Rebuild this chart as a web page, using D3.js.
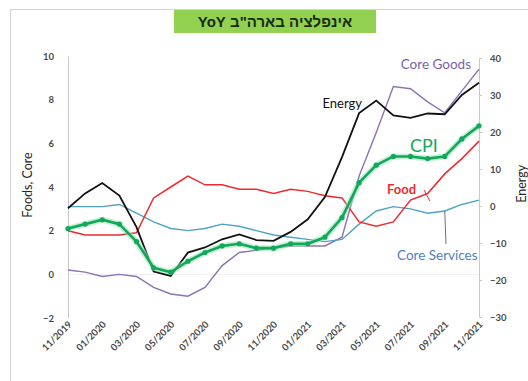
<!DOCTYPE html>
<html>
<head>
<meta charset="utf-8">
<script src="https://cdn.jsdelivr.net/npm/d3@7"></script>
<style>
  html, body { margin: 0; padding: 0; background: #fff; }
  svg { display: block; }
</style>
</head>
<body>
<svg id="chart" width="528" height="381"></svg>
<script>
// Monthly year-over-year inflation, 11/2019 – 11/2021 (%)
const months = [
  "11/2019","12/2019","01/2020","02/2020","03/2020","04/2020","05/2020","06/2020","07/2020",
  "08/2020","09/2020","10/2020","11/2020","12/2020","01/2021","02/2021","03/2021","04/2021",
  "05/2021","06/2021","07/2021","08/2021","09/2021","10/2021","11/2021"
];
const cpi          = [2.1, 2.3, 2.5, 2.3, 1.5, 0.3, 0.1, 0.6, 1.0, 1.3, 1.4, 1.2, 1.2, 1.4, 1.4, 1.7, 2.6, 4.2, 5.0, 5.4, 5.4, 5.3, 5.4, 6.2, 6.8];
const food         = [2.0, 1.8, 1.8, 1.8, 1.9, 3.5, 4.0, 4.5, 4.1, 4.1, 3.9, 3.9, 3.7, 3.9, 3.8, 3.6, 3.5, 2.4, 2.2, 2.4, 3.4, 3.7, 4.6, 5.3, 6.1];
const coreGoods    = [0.2, 0.1, -0.1, 0.0, -0.1, -0.6, -0.9, -1.0, -0.6, 0.4, 1.0, 1.1, 1.2, 1.3, 1.3, 1.3, 1.7, 4.5, 6.5, 8.6, 8.5, 7.9, 7.4, 8.4, 9.4];
const coreServices = [3.1, 3.1, 3.1, 3.2, 2.8, 2.4, 2.1, 2.0, 2.1, 2.3, 2.2, 2.0, 1.8, 1.7, 1.6, 1.5, 1.6, 2.3, 2.9, 3.1, 3.0, 2.8, 2.9, 3.2, 3.4];
// Energy is read on the right-hand axis
const energy       = [-0.6, 3.4, 6.2, 2.8, -5.7, -17.7, -18.9, -12.6, -11.2, -9.0, -7.7, -9.2, -9.4, -7.0, -3.6, 2.4, 13.2, 25.1, 28.5, 24.5, 23.8, 25.0, 24.8, 30.0, 33.3];

const leftTicks  = [-2, 0, 2, 4, 6, 8, 10];
const rightTicks = [-30, -20, -10, 0, 10, 20, 30, 40];
const xTickLabels = months.filter((m, i) => i % 2 === 0);

const title = "אינפלציה בארה\"ב YoY";

const svg = d3.select("#chart");
const FONT = "Lato, 'Liberation Sans', sans-serif";

// chart frame
svg.append("rect")
  .attr("x", 10.5).attr("y", 9.5).attr("width", 540).attr("height", 400)
  .attr("fill", "#fff").attr("stroke", "#d4d4d4").attr("stroke-width", 1);

const x  = d3.scalePoint().domain(months).range([68, 479]);
const yL = d3.scaleLinear().domain([-2, 10]).range([318, 56]);
const yR = d3.scaleLinear().domain([-30, 40]).range([317, 58]);

// faint zero gridline
svg.append("line")
  .attr("x1", 68).attr("x2", 479)
  .attr("y1", yL(0)).attr("y2", yL(0))
  .attr("stroke", "#f0f0f0").attr("stroke-width", 1);

// left axis
const gL = svg.append("g").attr("transform", "translate(68,0)")
  .call(d3.axisLeft(yL).tickValues(leftTicks).tickSize(0).tickPadding(14));
gL.select(".domain").attr("stroke", "#c8c8c8");
gL.selectAll("text").attr("font-family", FONT).attr("font-size", 9.5)
  .attr("font-weight", "bold").attr("fill", "#4a4a4a");

// right axis
const gR = svg.append("g").attr("transform", "translate(479,0)")
  .call(d3.axisRight(yR).tickValues(rightTicks).tickSize(3).tickPadding(8));
gR.select(".domain").attr("stroke", "#c8c8c8");
gR.selectAll(".tick line").attr("stroke", "#c8c8c8");
gR.selectAll("text").attr("font-family", FONT).attr("font-size", 9.5)
  .attr("font-weight", "bold").attr("fill", "#4a4a4a");

// bottom axis labels (every second month), slanted
const gX = svg.append("g").attr("transform", "translate(0,318)")
  .call(d3.axisBottom(x).tickValues(xTickLabels).tickSize(0).tickPadding(0));
gX.select(".domain").remove();
gX.selectAll("text")
  .attr("font-family", FONT).attr("font-size", 9.5).attr("font-weight", "bold")
  .attr("fill", "#4a4a4a")
  .attr("text-anchor", "end")
  .attr("dy", 0)
  .attr("transform", "translate(4,7) rotate(-45)");

// axis titles
svg.append("text")
  .attr("transform", `translate(32,${(yL(2) + yL(6)) / 2 - 2}) rotate(-90)`)
  .attr("text-anchor", "middle")
  .attr("font-family", FONT).attr("font-size", 12.5).attr("fill", "#262626")
  .text("Foods, Core");
svg.append("text")
  .attr("transform", `translate(526,${yR(6)}) rotate(-90)`)
  .attr("text-anchor", "middle")
  .attr("font-family", FONT).attr("font-size", 12.5).attr("fill", "#262626")
  .text("Energy");

// series lines
const lineL = d3.line().x((d, i) => x(months[i])).y(d => yL(d));
const lineR = d3.line().x((d, i) => x(months[i])).y(d => yR(d));

svg.append("path").datum(coreGoods).attr("d", lineL)
  .attr("fill", "none").attr("stroke", "#8a72b4").attr("stroke-width", 1.4);
svg.append("path").datum(coreServices).attr("d", lineL)
  .attr("fill", "none").attr("stroke", "#4ea3c4").attr("stroke-width", 1.4);
svg.append("path").datum(food).attr("d", lineL)
  .attr("fill", "none").attr("stroke", "#ee2a2e").attr("stroke-width", 1.5);
svg.append("path").datum(energy).attr("d", lineR)
  .attr("fill", "none").attr("stroke", "#111").attr("stroke-width", 1.8);

// CPI with soft halo and markers
svg.append("path").datum(cpi).attr("d", lineL)
  .attr("fill", "none").attr("stroke", "#9be3b8").attr("stroke-width", 6)
  .attr("stroke-opacity", 0.55).attr("stroke-linejoin", "round");
svg.append("path").datum(cpi).attr("d", lineL)
  .attr("fill", "none").attr("stroke", "#12a85a").attr("stroke-width", 2.6)
  .attr("stroke-linejoin", "round");
svg.selectAll("circle.cpi").data(cpi).enter().append("circle")
  .attr("class", "cpi")
  .attr("cx", (d, i) => x(months[i])).attr("cy", d => yL(d))
  .attr("r", 2.6).attr("fill", "#12a85a");

// series labels
svg.append("text")
  .attr("x", 471).attr("y", 69).attr("text-anchor", "end")
  .attr("font-family", FONT).attr("font-size", 13.5).attr("fill", "#7a5fab")
  .text("Core Goods");
svg.append("text")
  .attr("x", 362).attr("y", 108).attr("text-anchor", "end")
  .attr("font-family", FONT).attr("font-size", 13).attr("fill", "#111")
  .text("Energy");
svg.append("text")
  .attr("x", 410).attr("y", 152)
  .attr("font-family", FONT).attr("font-size", 18).attr("fill", "#12a85a")
  .text("CPI");
svg.append("text")
  .attr("x", 387).attr("y", 194)
  .attr("font-family", FONT).attr("font-size", 13).attr("font-weight", "bold")
  .attr("fill", "#ee2a2e")
  .text("Food");
svg.append("line")
  .attr("x1", 424).attr("y1", 190).attr("x2", 430).attr("y2", yL(food[20]) + 1)
  .attr("stroke", "#ee2a2e").attr("stroke-width", 1);
svg.append("text")
  .attr("x", 397).attr("y", 260)
  .attr("font-family", FONT).attr("font-size", 13.5).attr("fill", "#4f81bd")
  .text("Core Services");
svg.append("line")
  .attr("x1", 446).attr("y1", 244)
  .attr("x2", x(months[22])).attr("y2", yL(coreServices[22]))
  .attr("stroke", "#3d4f63").attr("stroke-width", 0.8);

// title badge
const tg = svg.append("g");
tg.append("rect")
  .attr("x", 174).attr("y", 10).attr("width", 202).attr("height", 23)
  .attr("fill", "#92d050");
tg.append("text")
  .attr("x", 275).attr("y", 27)
  .attr("text-anchor", "middle")
  .attr("direction", "rtl")
  .attr("font-family", "'Liberation Sans', 'DejaVu Sans', sans-serif")
  .attr("font-size", 15).attr("font-weight", "bold").attr("fill", "#1a2a10")
  .text(title);
</script>
</body>
</html>
